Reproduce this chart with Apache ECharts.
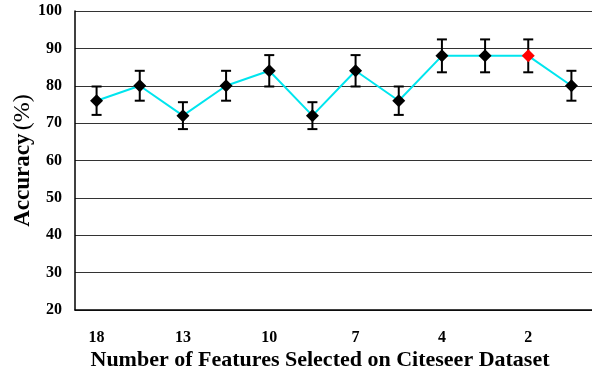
<!DOCTYPE html>
<html><head><meta charset="utf-8">
<script src="https://cdn.jsdelivr.net/npm/echarts@6/dist/echarts.min.js"></script>
<style>html,body{margin:0;padding:0;background:#fff}#c{width:592px;height:371px}</style>
</head><body><div id="c"></div>
<script>
var categories = ['18','16','13','11','10','8','7','5','4','3','2','1'];
var accuracy = [76, 80, 72, 80, 84, 72, 84, 76, 88, 88, 88, 80];
var errors = [3.8, 4, 3.6, 4, 4.2, 3.6, 4.2, 3.8, 4.4, 4.4, 4.4, 4];
var highlightIndex = 10;
var yTicks = [20, 30, 40, 50, 60, 70, 80, 90, 100];

var errData = accuracy.map(function(v, i){ return [i, v - errors[i], v + errors[i]]; });
var lineData = accuracy.map(function(v, i){
  return i === highlightIndex ? {value: v, itemStyle: {color: '#ff0000'}} : v;
});
var font = '"Liberation Serif", "Times New Roman", serif';
var chart = echarts.init(document.getElementById('c'));
chart.setOption({
  animation: false,
  grid: {left: 75, top: 11, width: 518, height: 299, containLabel: false, outerBoundsMode: 'none'},
  xAxis: {
    type: 'category', data: categories, boundaryGap: true,
    axisLine: {lineStyle: {color: '#000', width: 1.5}},
    axisTick: {inside: true, length: 6, alignWithLabel: false, interval: 0, lineStyle: {color: '#000', width: 1}},
    axisLabel: {interval: 1, color: '#000', fontFamily: font, fontWeight: 'bold', fontSize: 16, margin: 20},
    name: 'Number of Features Selected on Citeseer Dataset', nameLocation: 'middle', nameGap: 39,
    nameMoveOverlap: false,
    nameTextStyle: {color: '#000', fontFamily: font, fontWeight: 'bold', fontSize: 22, padding: [0, 28, 0, 0]}
  },
  yAxis: {
    type: 'value', min: yTicks[0], max: yTicks[yTicks.length-1], interval: 10,
    axisLine: {show: true, lineStyle: {color: '#000', width: 1.5}},
    axisTick: {show: false},
    splitLine: {lineStyle: {color: '#333', width: 1}},
    axisLabel: {color: '#000', fontFamily: font, fontWeight: 'bold', fontSize: 16, margin: 13},
    name: '{a|Accuracy} {b|(%)}', nameLocation: 'middle', nameGap: 40,
    nameMoveOverlap: false,
    nameTextStyle: {rich: {
      a: {color: '#000', fontFamily: font, fontWeight: 'bold', fontSize: 23},
      b: {color: '#000', fontFamily: font, fontWeight: 'normal', fontSize: 24}
    }}
  },
  series: [
    {
      type: 'custom', data: errData, z: 2,
      renderItem: function(params, api){
        var x = api.value(0);
        var lo = api.coord([x, api.value(1)]);
        var hi = api.coord([x, api.value(2)]);
        var w = 5;
        var st = {stroke: '#000', lineWidth: 2};
        return {type: 'group', children: [
          {type: 'line', shape: {x1: lo[0], y1: lo[1], x2: hi[0], y2: hi[1]}, style: st},
          {type: 'line', shape: {x1: lo[0]-w, y1: lo[1], x2: lo[0]+w, y2: lo[1]}, style: st},
          {type: 'line', shape: {x1: hi[0]-w, y1: hi[1], x2: hi[0]+w, y2: hi[1]}, style: st}
        ]};
      }
    },
    {
      type: 'line', data: lineData, z: 3,
      lineStyle: {color: '#00e5ee', width: 2},
      symbol: 'diamond', symbolSize: 13,
      itemStyle: {color: '#000'}
    }
  ]
});
</script></body></html>
